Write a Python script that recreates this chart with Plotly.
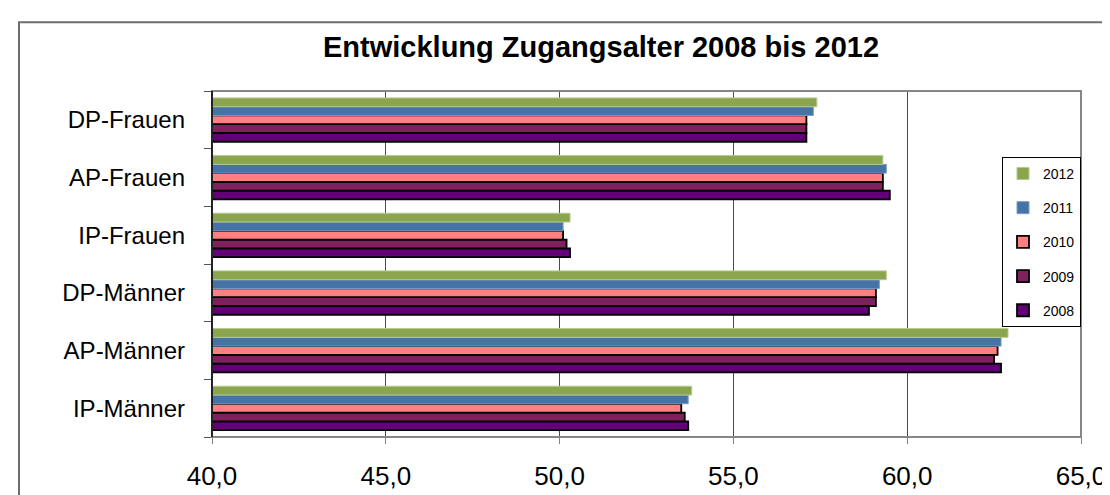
import plotly.graph_objects as go

# categories bottom -> top, as plotly draws a categorical y axis
categories = ['IP-Männer', 'AP-Männer', 'DP-Männer', 'IP-Frauen', 'AP-Frauen', 'DP-Frauen']

years = ['2008', '2009', '2010', '2011', '2012']
v2008 = [53.7, 62.7, 58.9, 50.3, 59.5, 57.1]
v2009 = [53.6, 62.5, 59.1, 50.2, 59.3, 57.1]
v2010 = [53.5, 62.6, 59.1, 50.1, 59.3, 57.1]
v2011 = [53.7, 62.7, 59.2, 50.1, 59.4, 57.3]
v2012 = [53.8, 62.9, 59.4, 50.3, 59.3, 57.4]
series = [v2008, v2009, v2010, v2011, v2012]

x_ticks = [40, 45, 50, 55, 60, 65]

FONT = 'Arial, Liberation Sans, sans-serif'
_FILL = ['#620077', '#80205F', '#FF8080', '#4573A8', '#8BA54F']
_EDGE = ['#000000', '#000000', '#000000', '#7B9CC8', '#B3C98A']
_EDGE_W = [1.8, 1.8, 1.8, 1, 1]

fig = go.Figure()
for i, (yr, vals) in enumerate(zip(years, series)):
    fig.add_trace(go.Bar(
        x=vals, y=categories, orientation='h', name=yr,
        marker=dict(color=_FILL[i], line=dict(color=_EDGE[i], width=_EDGE_W[i])),
        legendgroup=yr, legendrank=1000 - i,  # newest year on top of legend
    ))

fig.update_layout(
    width=1110, height=495,
    margin=dict(l=204, r=28, t=83, b=60),
    paper_bgcolor='white', plot_bgcolor='white',
    separators=',.',
    barmode='group', bargap=0.24, bargroupgap=0,
    font=dict(family=FONT, color='black'),
    title=dict(
        text='<b>Entwicklung Zugangsalter 2008 bis 2012</b>',
        font=dict(size=29, family=FONT, color='black'),
        xref='container', x=593 / 1110, xanchor='center',
        yref='container', y=1 - 39 / 495, yanchor='middle',
    ),
    xaxis=dict(
        range=[40, 65], tickvals=x_ticks, tickformat='.1f',
        showgrid=True, gridcolor='#4a4a4a', gridwidth=1,
        ticks='outside', ticklen=6, tickcolor='#808080',
        tickfont=dict(size=26), ticklabelstandoff=10,
        showline=False, zeroline=False,
    ),
    yaxis=dict(
        ticks='outside', ticklen=7, tickcolor='#555555', tickson='boundaries',
        tickfont=dict(size=24), ticklabelstandoff=26,
        showline=False, showgrid=False,
    ),
    legend=dict(
        x=1, xanchor='right', y=1 - (150 - 83) / 352, yanchor='top',
        traceorder='grouped', tracegroupgap=13,
        bordercolor='black', borderwidth=1, bgcolor='white',
        font=dict(size=14),
    ),
    shapes=[
        # plot area frame (grey) and black value axis on the left
        dict(type='rect', xref='paper', yref='paper', x0=0, x1=1, y0=0, y1=1,
             line=dict(color='#868686', width=2), layer='above'),
        dict(type='line', xref='paper', yref='paper', x0=0, x1=0, y0=0, y1=1,
             line=dict(color='black', width=1.5), layer='above'),
        # chart area border
        dict(type='rect', xref='paper', yref='paper',
             x0=-195 / 878, x1=1.2, y0=-0.4, y1=1 + 70 / 352,
             line=dict(color='#6e6e6e', width=2)),
    ],
)

fig.write_html('out.html')
